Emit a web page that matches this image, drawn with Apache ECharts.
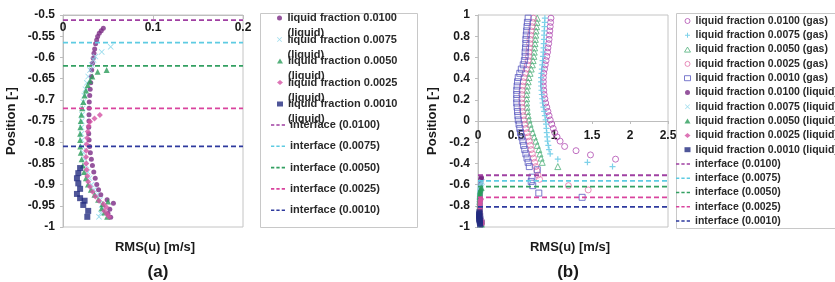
<!DOCTYPE html>
<html><head><meta charset="utf-8">
<script src="https://cdn.jsdelivr.net/npm/echarts@6/dist/echarts.min.js"></script>
<style>html,body{margin:0;padding:0;background:#fff}#c{width:835px;height:282px}</style>
</head><body><div id="c"></div>
<script>
const FONT = 'Arial, "Liberation Sans", sans-serif';
const fractions = ['0.0100', '0.0075', '0.0050', '0.0025', '0.0010'];
const interfaceLevels = [-0.512, -0.565, -0.62, -0.72, -0.81];
const xTicksA = [0, 0.1, 0.2];
const xTicksB = [0, 0.5, 1, 1.5, 2, 2.5];

// liquid-phase RMS(u) profiles [RMS, position]
const liquid0100 = [[0.0448,-0.531],[0.0425,-0.537],[0.0403,-0.543],[0.0385,-0.551],[0.0374,-0.559],[0.0362,-0.568],[0.0352,-0.58],[0.0344,-0.59],[0.0336,-0.602],[0.0328,-0.614],[0.0319,-0.63],[0.0314,-0.645],[0.0308,-0.66],[0.0302,-0.675],[0.0297,-0.69],[0.0292,-0.705],[0.029,-0.72],[0.0289,-0.735],[0.0288,-0.75],[0.0286,-0.765],[0.0286,-0.78],[0.029,-0.795],[0.0296,-0.81],[0.0304,-0.825],[0.0315,-0.84],[0.0327,-0.855],[0.0342,-0.87],[0.0358,-0.885],[0.0375,-0.9],[0.0395,-0.912],[0.042,-0.924],[0.049,-0.936],[0.056,-0.944],[0.052,-0.958],[0.05,-0.968],[0.053,-0.977]];
const liquid0075 = [[0.053,-0.575],[0.043,-0.587],[0.036,-0.598],[0.034,-0.606],[0.032,-0.618],[0.03,-0.63],[0.028,-0.645],[0.0265,-0.66],[0.025,-0.675],[0.0237,-0.69],[0.0226,-0.705],[0.0218,-0.72],[0.0212,-0.735],[0.0208,-0.75],[0.0206,-0.765],[0.0206,-0.78],[0.021,-0.795],[0.0218,-0.81],[0.0228,-0.825],[0.0242,-0.84],[0.0258,-0.855],[0.0275,-0.87],[0.0295,-0.885],[0.0318,-0.9],[0.0345,-0.912],[0.0375,-0.924],[0.041,-0.936],[0.043,-0.948],[0.044,-0.958],[0.042,-0.968],[0.04,-0.976]];
const liquid0050 = [[0.0485,-0.63],[0.0385,-0.634],[0.0326,-0.645],[0.03,-0.655],[0.0275,-0.665],[0.0255,-0.678],[0.024,-0.69],[0.0226,-0.705],[0.0213,-0.72],[0.0204,-0.735],[0.0197,-0.75],[0.0193,-0.765],[0.019,-0.78],[0.019,-0.795],[0.0192,-0.81],[0.0197,-0.825],[0.0207,-0.84],[0.022,-0.855],[0.0235,-0.87],[0.0255,-0.885],[0.0278,-0.9],[0.031,-0.912],[0.035,-0.924],[0.039,-0.936],[0.044,-0.946],[0.05,-0.94],[0.043,-0.956],[0.046,-0.966],[0.049,-0.976]];
const liquid0025 = [[0.041,-0.736],[0.035,-0.744],[0.03,-0.752],[0.0285,-0.762],[0.0275,-0.775],[0.0268,-0.79],[0.0262,-0.805],[0.0258,-0.82],[0.0256,-0.835],[0.0258,-0.85],[0.0263,-0.865],[0.027,-0.88],[0.028,-0.893],[0.03,-0.905],[0.033,-0.917],[0.036,-0.928],[0.04,-0.938],[0.045,-0.946],[0.048,-0.953],[0.046,-0.962],[0.049,-0.97],[0.051,-0.976]];
const liquid0010 = [[0.019,-0.861],[0.017,-0.873],[0.0155,-0.885],[0.017,-0.897],[0.019,-0.91],[0.0155,-0.922],[0.019,-0.932],[0.024,-0.938],[0.0225,-0.948],[0.028,-0.962],[0.027,-0.976]];

// gas-phase RMS(u) profiles [RMS, position]
const gas0100 = [[0.96,0.97],[0.955,0.93],[0.95,0.89],[0.945,0.85],[0.94,0.81],[0.935,0.77],[0.93,0.73],[0.92,0.69],[0.915,0.65],[0.905,0.61],[0.895,0.57],[0.885,0.53],[0.875,0.49],[0.865,0.45],[0.86,0.41],[0.86,0.37],[0.86,0.33],[0.865,0.29],[0.87,0.25],[0.88,0.21],[0.89,0.17],[0.905,0.13],[0.92,0.09],[0.935,0.05],[0.95,0.01],[0.97,-0.03],[0.99,-0.07],[1.01,-0.11],[1.04,-0.15],[1.08,-0.19],[1.14,-0.24],[1.29,-0.28],[1.48,-0.32],[1.81,-0.36]];
const gas0075 = [[0.88,0.97],[0.878,0.93],[0.875,0.89],[0.872,0.85],[0.87,0.81],[0.868,0.77],[0.865,0.73],[0.862,0.69],[0.86,0.65],[0.855,0.61],[0.85,0.57],[0.845,0.53],[0.84,0.49],[0.835,0.45],[0.83,0.41],[0.83,0.37],[0.83,0.33],[0.835,0.29],[0.84,0.25],[0.845,0.21],[0.85,0.17],[0.86,0.13],[0.87,0.09],[0.88,0.05],[0.89,0.01],[0.895,-0.03],[0.9,-0.07],[0.905,-0.11],[0.91,-0.15],[0.915,-0.19],[0.925,-0.23],[0.935,-0.27],[0.95,-0.31],[1.05,-0.36],[1.44,-0.39],[1.77,-0.43]];
const gas0050 = [[0.78,0.97],[0.775,0.93],[0.77,0.89],[0.765,0.85],[0.76,0.81],[0.755,0.77],[0.75,0.73],[0.745,0.69],[0.74,0.65],[0.735,0.61],[0.725,0.57],[0.715,0.53],[0.7,0.49],[0.685,0.45],[0.67,0.41],[0.66,0.37],[0.65,0.33],[0.645,0.29],[0.64,0.25],[0.64,0.21],[0.64,0.17],[0.645,0.13],[0.65,0.09],[0.66,0.05],[0.67,0.01],[0.685,-0.03],[0.7,-0.07],[0.72,-0.11],[0.74,-0.15],[0.76,-0.19],[0.78,-0.23],[0.8,-0.27],[0.815,-0.31],[0.83,-0.35],[0.845,-0.39],[1.05,-0.43]];
const gas0025 = [[0.73,0.97],[0.72,0.93],[0.71,0.89],[0.7,0.85],[0.69,0.81],[0.685,0.77],[0.68,0.73],[0.675,0.69],[0.67,0.65],[0.665,0.61],[0.66,0.57],[0.65,0.53],[0.635,0.49],[0.62,0.45],[0.605,0.41],[0.595,0.37],[0.585,0.33],[0.58,0.29],[0.575,0.25],[0.575,0.21],[0.575,0.17],[0.58,0.13],[0.585,0.09],[0.595,0.05],[0.605,0.01],[0.615,-0.03],[0.63,-0.07],[0.645,-0.11],[0.66,-0.15],[0.675,-0.19],[0.69,-0.23],[0.7,-0.27],[0.715,-0.31],[0.73,-0.35],[0.745,-0.39],[0.76,-0.43],[0.775,-0.47],[0.79,-0.51],[0.81,-0.55],[1.19,-0.61],[1.45,-0.65]];
const gas0010 = [[0.66,0.97],[0.65,0.93],[0.645,0.89],[0.64,0.85],[0.635,0.81],[0.63,0.77],[0.63,0.73],[0.625,0.69],[0.62,0.65],[0.62,0.61],[0.61,0.57],[0.595,0.53],[0.57,0.49],[0.55,0.45],[0.53,0.41],[0.52,0.37],[0.515,0.33],[0.51,0.29],[0.51,0.25],[0.51,0.21],[0.51,0.17],[0.515,0.13],[0.52,0.09],[0.525,0.05],[0.53,0.01],[0.54,-0.03],[0.55,-0.07],[0.56,-0.11],[0.575,-0.15],[0.59,-0.19],[0.6,-0.23],[0.615,-0.27],[0.63,-0.31],[0.645,-0.35],[0.66,-0.39],[0.675,-0.43],[0.78,-0.46],[0.71,-0.53],[0.7,-0.57],[0.72,-0.61],[0.8,-0.68],[1.37,-0.72]];

const liquidData = [liquid0100, liquid0075, liquid0050, liquid0025, liquid0010];
const gasData = [gas0100, gas0075, gas0050, gas0025, gas0010];

const liquidColors = ['#7B2A84', '#86D4E8', '#2A9C5A', '#D452A4', '#232C80'];
const gasColors = ['#B04CB2', '#5EC6E3', '#4FB07A', '#E272AA', '#5A5AC0'];
const interfaceColors = ['#A040A2', '#5ECBE2', '#33A062', '#D9449E', '#2E3A9E'];

const X_PATH = 'path://M1,0L5,4L9,0L10,1L6,5L10,9L9,10L5,6L1,10L0,9L4,5L0,1Z';
const PLUS_PATH = 'path://M4,0H6V4H10V6H6V10H4V6H0V4H4Z';
const DASH_ICON = 'path://M0,0H4V2H0Z M6.5,0H10.5V2H6.5Z M13,0H17V2H13Z';
const liquidSymbols = ['circle', X_PATH, 'triangle', 'diamond', 'rect'];
const liquidSizes = [5, 6, 6, 6, 6];
const gasSymbols = ['circle', PLUS_PATH, 'triangle', 'circle', 'rect'];
const gasSizes = [6, 6, 6, 6, 6];

const liquidNames = fractions.map(f => 'liquid fraction ' + f + ' (liquid)');
const gasNames = fractions.map(f => 'liquid fraction ' + f + ' (gas)');
const ifaceNames = fractions.map(f => 'interface (' + f + ')');

const series = [];
function liquidSeries(ax) {
  liquidData.forEach((d, i) => series.push({
    type: 'scatter', name: liquidNames[i], xAxisIndex: ax, yAxisIndex: ax,
    data: d, symbol: liquidSymbols[i], symbolSize: liquidSizes[i],
    itemStyle: { color: liquidColors[i] }, silent: true
  }));
}
function ifaceSeries(ax, xmax) {
  interfaceLevels.forEach((y, i) => series.push({
    type: 'line', name: ifaceNames[i], xAxisIndex: ax, yAxisIndex: ax,
    data: [[0, y], [xmax, y]], symbol: 'none', silent: true,
    lineStyle: { color: interfaceColors[i], width: 1.8, type: [5, 3] },
    itemStyle: { color: interfaceColors[i] }
  }));
}
// chart (a)
ifaceSeries(0, xTicksA[xTicksA.length - 1]);
liquidSeries(0);
// chart (b)
ifaceSeries(1, xTicksB[xTicksB.length - 1]);
gasData.forEach((d, i) => series.push({
  type: 'scatter', name: gasNames[i], xAxisIndex: 1, yAxisIndex: 1,
  data: d, symbol: gasSymbols[i], symbolSize: gasSizes[i], silent: true,
  itemStyle: i === 1 ? { color: gasColors[i] } : { color: 'rgba(0,0,0,0)', borderColor: gasColors[i], borderWidth: 1 }
}));
liquidSeries(1);

const axisLabel = { fontFamily: FONT, fontWeight: 'bold', fontSize: 12, color: '#1a1a1a' };
const axisLineStyle = { lineStyle: { color: '#BDBDBD', width: 1 } };
const legendText = (fs) => ({ fontFamily: FONT, fontWeight: 'bold', fontSize: fs, color: '#2a2a2a', lineHeight: 14 });

// legend (a): one block per liquid entry; a blank leading line puts the first text line at icon height
const legendA = liquidNames.map((n, i) => ({
  orient: 'vertical', left: 277, top: -4.5 + i * 21.5, padding: 0, itemWidth: 6, itemHeight: 5,
  data: [n], selectedMode: false,
  formatter: s => '\n' + s.replace(' (liquid)', '\n(liquid)'),
  textStyle: { ...legendText(11), lineHeight: 15 }
}));

const chart = echarts.init(document.getElementById('c'), null, { renderer: 'canvas' });
chart.setOption({
  animation: false,
  backgroundColor: '#fff',
  grid: [
    { left: 63, top: 15, width: 180, height: 212, show: true, borderColor: '#C4C4C4', borderWidth: 1 },
    { left: 478, top: 15, width: 190, height: 212, show: true, borderColor: '#C4C4C4', borderWidth: 1 }
  ],
  xAxis: [
    { gridIndex: 0, type: 'value', min: xTicksA[0], max: xTicksA[xTicksA.length - 1], interval: 0.1,
      position: 'top', axisLine: { show: true, onZero: false, ...axisLineStyle },
      axisTick: { show: true, inside: true, length: 4, lineStyle: { color: '#BDBDBD' } },
      axisLabel: { ...axisLabel, inside: true, margin: 7 }, splitLine: { show: false } },
    { gridIndex: 1, type: 'value', min: xTicksB[0], max: xTicksB[xTicksB.length - 1], interval: 0.5,
      position: 'bottom', offset: -106,
      axisLine: { show: true, onZero: false, ...axisLineStyle },
      axisTick: { show: true, length: 3, lineStyle: { color: '#BDBDBD' } },
      axisLabel: { ...axisLabel, margin: 9 }, splitLine: { show: false } }
  ],
  yAxis: [
    { gridIndex: 0, type: 'value', min: -1, max: -0.5, interval: 0.05,
      name: 'Position [-]', nameLocation: 'middle', nameRotate: 90, nameGap: 45,
      nameTextStyle: { fontFamily: FONT, fontWeight: 'bold', fontSize: 13, color: '#1a1a1a' },
      axisLine: { show: true, onZero: false, ...axisLineStyle },
      axisTick: { show: true, length: 3, lineStyle: { color: '#BDBDBD' } },
      axisLabel: { ...axisLabel, margin: 8 }, splitLine: { show: false } },
    { gridIndex: 1, type: 'value', min: -1, max: 1, interval: 0.2,
      name: 'Position [-]', nameLocation: 'middle', nameRotate: 90, nameGap: 39,
      nameTextStyle: { fontFamily: FONT, fontWeight: 'bold', fontSize: 13, color: '#1a1a1a' },
      axisLine: { show: true, onZero: false, ...axisLineStyle },
      axisTick: { show: true, length: 3, lineStyle: { color: '#BDBDBD' } },
      axisLabel: { ...axisLabel, margin: 8 }, splitLine: { show: false } }
  ],
  legend: legendA.concat([
    { orient: 'vertical', left: 271, top: 118, padding: 0, itemGap: 7.3, itemWidth: 14, itemHeight: 5,
      data: ifaceNames.map(n => ({ name: n, icon: DASH_ICON })), selectedMode: false, textStyle: legendText(11) },
    { orient: 'vertical', left: 684, top: 14, padding: 0, itemGap: 0.3, itemWidth: 6, itemHeight: 5,
      data: gasNames.concat(liquidNames), selectedMode: false, textStyle: legendText(10.5),
      itemStyle: { borderWidth: 1 } },
    { orient: 'vertical', left: 676, top: 157, padding: 0, itemGap: 0.25, itemWidth: 14, itemHeight: 5,
      data: ifaceNames.map(n => ({ name: n, icon: DASH_ICON })), selectedMode: false, textStyle: legendText(10.5) }
  ]),
  graphic: [
    { type: 'rect', shape: { x: 260.5, y: 13.5, width: 157, height: 214 }, style: { fill: 'none', stroke: '#C8C8C8', lineWidth: 1 }, z: -1 },
    { type: 'rect', shape: { x: 676.5, y: 13.5, width: 170, height: 215 }, style: { fill: 'none', stroke: '#C8C8C8', lineWidth: 1 }, z: -1 },
    { type: 'text', x: 155, y: 247, style: { text: 'RMS(u) [m/s]', font: 'bold 13px ' + FONT, fill: '#1a1a1a', align: 'center', verticalAlign: 'middle' } },
    { type: 'text', x: 570, y: 247, style: { text: 'RMS(u) [m/s]', font: 'bold 13px ' + FONT, fill: '#1a1a1a', align: 'center', verticalAlign: 'middle' } },
    { type: 'text', x: 158, y: 272, style: { text: '(a)', font: 'bold 17px ' + FONT, fill: '#1a1a1a', align: 'center', verticalAlign: 'middle' } },
    { type: 'text', x: 568, y: 272, style: { text: '(b)', font: 'bold 17px ' + FONT, fill: '#1a1a1a', align: 'center', verticalAlign: 'middle' } }
  ],
  series: series
});
</script></body></html>
